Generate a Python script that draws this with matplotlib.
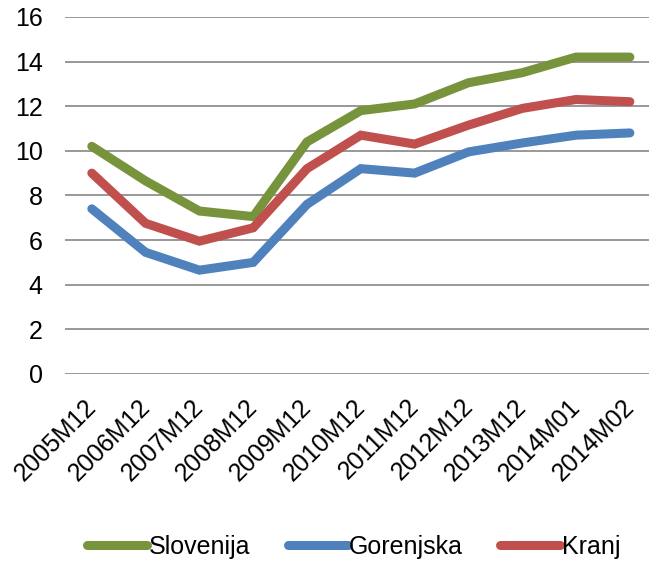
import matplotlib.pyplot as plt
import matplotlib.transforms as mtransforms
import numpy as np

plt.rcParams['font.family'] = ['Liberation Sans', 'DejaVu Sans']

periods = ['2005M12', '2006M12', '2007M12', '2008M12', '2009M12', '2010M12',
           '2011M12', '2012M12', '2013M12', '2014M01', '2014M02']
slovenija = [10.2, 8.65, 7.3, 7.05, 10.4, 11.8, 12.1, 13.05, 13.5, 14.2, 14.2]
gorenjska = [7.4, 5.45, 4.65, 5.0, 7.6, 9.2, 9.0, 9.95, 10.35, 10.7, 10.8]
kranj = [9.0, 6.75, 5.95, 6.55, 9.2, 10.7, 10.3, 11.15, 11.9, 12.3, 12.2]

fig = plt.figure(figsize=(6.49, 5.64), dpi=100)
ax = fig.add_axes([0.1, 0.337, 0.912, 0.633])

x = np.arange(len(periods))
lw = 6.5
ax.plot(x, slovenija, color='#77933C', lw=lw, label='Slovenija', solid_capstyle='round', solid_joinstyle='miter')
ax.plot(x, gorenjska, color='#4F81BD', lw=lw, label='Gorenjska', solid_capstyle='round', solid_joinstyle='miter')
ax.plot(x, kranj, color='#C0504D', lw=lw, label='Kranj', solid_capstyle='round', solid_joinstyle='miter')

ax.set_xlim(-0.5, len(periods) - 0.5)
ax.set_ylim(0, 16)
ax.set_yticks(np.arange(0, 17, 2))
ax.yaxis.grid(True, color='#868686', lw=1.2)
ax.set_axisbelow(True)
for s in ax.spines.values():
    s.set_visible(False)
ax.tick_params(axis='both', length=0)
ax.tick_params(axis='y', pad=16, labelsize=18)
ax.set_xticks(x)
ax.set_xticklabels(periods, rotation=45, ha='right', rotation_mode='anchor')
ax.tick_params(axis='x', pad=14, labelsize=18)
# nudge rotated labels a bit left
shift = mtransforms.ScaledTranslation(-0.08, -0.01, fig.dpi_scale_trans)
for lab in ax.get_xticklabels():
    lab.set_transform(lab.get_transform() + shift)

leg = ax.legend(loc='center', bbox_to_anchor=(0.545, 0.03), bbox_transform=fig.transFigure,
                ncol=3, frameon=False, fontsize=18, handlelength=2.4, handletextpad=0.05,
                columnspacing=1.5)
for h in leg.get_lines():
    h.set_solid_capstyle('round')

fig.savefig('out.png', dpi=100)
